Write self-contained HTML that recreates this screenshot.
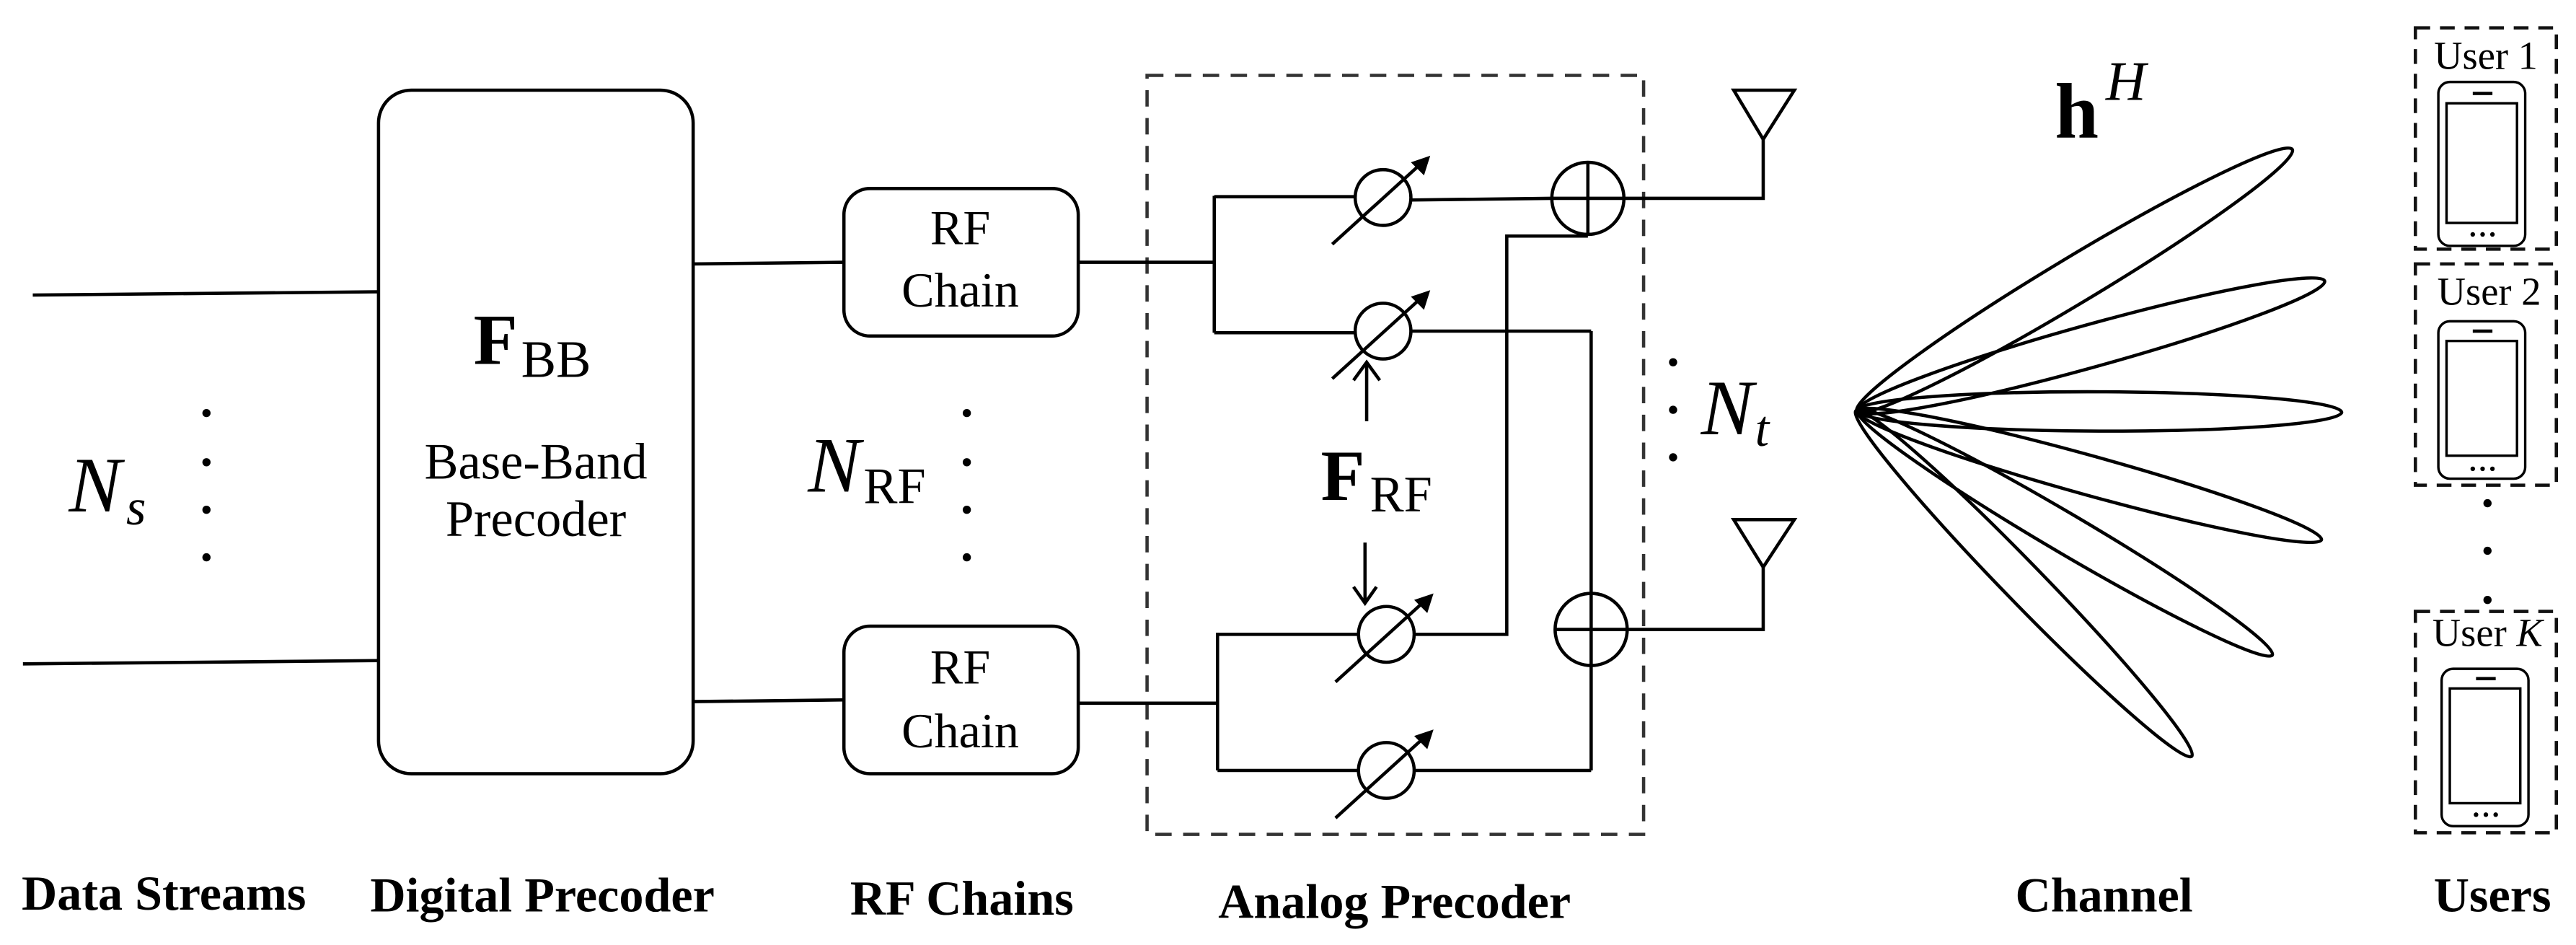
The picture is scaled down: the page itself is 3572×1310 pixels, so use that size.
<!DOCTYPE html>
<html><head><meta charset="utf-8"><style>
html,body{margin:0;padding:0;background:#fff;}
svg{display:block;}
text{font-family:"Liberation Serif",serif;fill:#000;}
</style></head><body>
<svg width="3572" height="1310" viewBox="0 0 1572 576.5" preserveAspectRatio="none" xmlns="http://www.w3.org/2000/svg">
<g stroke="#000" stroke-width="2" fill="none">
<line x1="20" y1="180" x2="231" y2="178"/>
<line x1="14" y1="405" x2="231" y2="403"/>
<rect x="231" y="55" width="192" height="417" rx="20"/>
<line x1="423" y1="161" x2="515" y2="160"/>
<line x1="423" y1="428" x2="515" y2="427"/>
<rect x="515" y="115" width="143" height="90" rx="16"/>
<rect x="515" y="382" width="143" height="90" rx="16"/>
<rect x="700" y="46" width="303" height="463" stroke-dasharray="10,7" stroke="#333"/>
<line x1="658" y1="160" x2="741" y2="160"/>
<line x1="741" y1="119.5" x2="741" y2="203"/>
<line x1="741" y1="120" x2="827" y2="120"/>
<line x1="741" y1="203" x2="827" y2="203"/>
<line x1="658" y1="429" x2="743" y2="429"/>
<line x1="743" y1="386" x2="743" y2="470"/>
<line x1="743" y1="387" x2="829" y2="387"/>
<line x1="743" y1="470" x2="829" y2="470"/>
<circle cx="844" cy="120.5" r="17"/>
<circle cx="844" cy="202" r="17"/>
<circle cx="846" cy="387" r="17"/>
<circle cx="846" cy="470" r="17"/>
<line x1="813" y1="149" x2="867" y2="100"/>
<line x1="813" y1="231" x2="867" y2="182"/>
<line x1="815" y1="416" x2="869" y2="367"/>
<line x1="815" y1="499" x2="869" y2="450"/>
<line x1="834" y1="257" x2="834" y2="221"/><polyline points="826,232 834,221 842,232"/>
<line x1="833" y1="331" x2="833" y2="368"/><polyline points="826,358 833,368 840,358"/>
<line x1="861" y1="122" x2="947" y2="121"/>
<line x1="861" y1="202" x2="971" y2="202"/>
<polyline points="863,387 919.5,387 919.5,144 969,144"/>
<line x1="971" y1="202" x2="971" y2="470"/>
<line x1="863" y1="470" x2="971" y2="470"/>
<circle cx="969" cy="121" r="22"/>
<line x1="947" y1="121" x2="991" y2="121"/><line x1="969" y1="99" x2="969" y2="143"/>
<circle cx="971" cy="384" r="22"/>
<line x1="949" y1="384" x2="993" y2="384"/>
<polyline points="991,121 1076,121 1076,85"/>
<polygon points="1058,55 1095,55 1076,85"/>
<polyline points="993,384 1076,384 1076,346"/>
<polygon points="1058,317 1095,317 1076,346"/>
<ellipse cx="1266" cy="171" rx="155" ry="14" transform="rotate(-31 1266 171)"/>
<ellipse cx="1276" cy="211" rx="148" ry="13" transform="rotate(-15.5 1276 211)"/>
<ellipse cx="1281" cy="251" rx="148" ry="12" transform="rotate(0.2 1281 251)"/>
<ellipse cx="1275" cy="290" rx="147" ry="12" transform="rotate(15.5 1275 290)"/>
<ellipse cx="1260" cy="325" rx="147" ry="12" transform="rotate(30.5 1260 325)"/>
<ellipse cx="1235" cy="356" rx="147" ry="12" transform="rotate(45.8 1235 356)"/>
<g stroke-dasharray="9,6" stroke="#111">
<rect x="1474" y="17" width="86" height="135"/>
<rect x="1474" y="161" width="86" height="135"/>
<rect x="1474" y="373" width="86" height="135"/>
</g>
<g stroke-width="1.5">
<rect x="1488" y="50" width="53" height="100" rx="7"/><rect x="1493" y="63" width="43" height="73"/>
<rect x="1488" y="196" width="53" height="96" rx="7"/><rect x="1493" y="208" width="43" height="70"/>
<rect x="1490" y="408" width="53" height="96" rx="7"/><rect x="1495" y="420" width="43" height="70"/>
</g>
</g>
<g fill="#000">
<polygon points="872.8,95 861,99 869,107"/>
<polygon points="872.8,177 861,181 869,189"/>
<polygon points="874.8,362 863,366 871,374"/>
<polygon points="874.8,445 863,449 871,457"/>
<circle cx="126" cy="252" r="2.5"/><circle cx="126" cy="282" r="2.5"/><circle cx="126" cy="311" r="2.5"/><circle cx="126" cy="340" r="2.5"/>
<circle cx="590" cy="252" r="2.5"/><circle cx="590" cy="282" r="2.5"/><circle cx="590" cy="311" r="2.5"/><circle cx="590" cy="340" r="2.5"/>
<circle cx="1021" cy="221" r="2.5"/><circle cx="1021" cy="250" r="2.5"/><circle cx="1021" cy="279" r="2.5"/>
<circle cx="1518" cy="307" r="2.5"/><circle cx="1518" cy="336" r="2.5"/><circle cx="1518" cy="366" r="2.5"/>
<rect x="1509" y="56" width="12" height="2"/><rect x="1509" y="201" width="12" height="2"/><rect x="1511" y="413" width="12" height="2"/>
<circle cx="1509" cy="143" r="1.4"/><circle cx="1515" cy="143" r="1.4"/><circle cx="1521" cy="143" r="1.4"/>
<circle cx="1509" cy="286" r="1.4"/><circle cx="1515" cy="286" r="1.4"/><circle cx="1521" cy="286" r="1.4"/>
<circle cx="1511" cy="497" r="1.4"/><circle cx="1517" cy="497" r="1.4"/><circle cx="1523" cy="497" r="1.4"/>
</g>
<text x="289" y="222" font-size="44" font-weight="bold">F</text><text x="318" y="230" font-size="32">BB</text>
<text x="327" y="292" font-size="31" text-anchor="middle">Base-Band</text>
<text x="327" y="327" font-size="31" text-anchor="middle">Precoder</text>
<text x="586" y="149" font-size="30" text-anchor="middle">RF</text>
<text x="586" y="187" font-size="30" text-anchor="middle">Chain</text>
<text x="586" y="417" font-size="30" text-anchor="middle">RF</text>
<text x="586" y="456" font-size="30" text-anchor="middle">Chain</text>
<text x="42" y="312" font-size="48" font-style="italic">N</text><text x="77" y="320" font-size="31" font-style="italic">s</text>
<text x="493" y="300" font-size="48" font-style="italic">N</text><text x="527" y="307" font-size="31">RF</text>
<text x="806" y="305" font-size="44" font-weight="bold">F</text><text x="836" y="312" font-size="31">RF</text>
<text x="1038" y="265" font-size="48" font-style="italic">N</text><text x="1071" y="272" font-size="31" font-style="italic">t</text>
<text x="1254" y="84" font-size="48" font-weight="bold">h</text><text x="1285" y="61" font-size="34" font-style="italic">H</text>
<text x="1517" y="42" font-size="24" text-anchor="middle">User 1</text>
<text x="1519" y="186" font-size="24" text-anchor="middle">User 2</text>
<text x="1518" y="394" font-size="24" text-anchor="middle">User <tspan font-style="italic">K</tspan></text>
<g font-size="30" font-weight="bold" text-anchor="middle">
<text x="100" y="555">Data Streams</text>
<text x="331" y="556">Digital Precoder</text>
<text x="587" y="558">RF Chains</text>
<text x="851" y="560">Analog Precoder</text>
<text x="1284" y="556">Channel</text>
<text x="1521" y="556">Users</text>
</g>
</svg>
</body></html>
